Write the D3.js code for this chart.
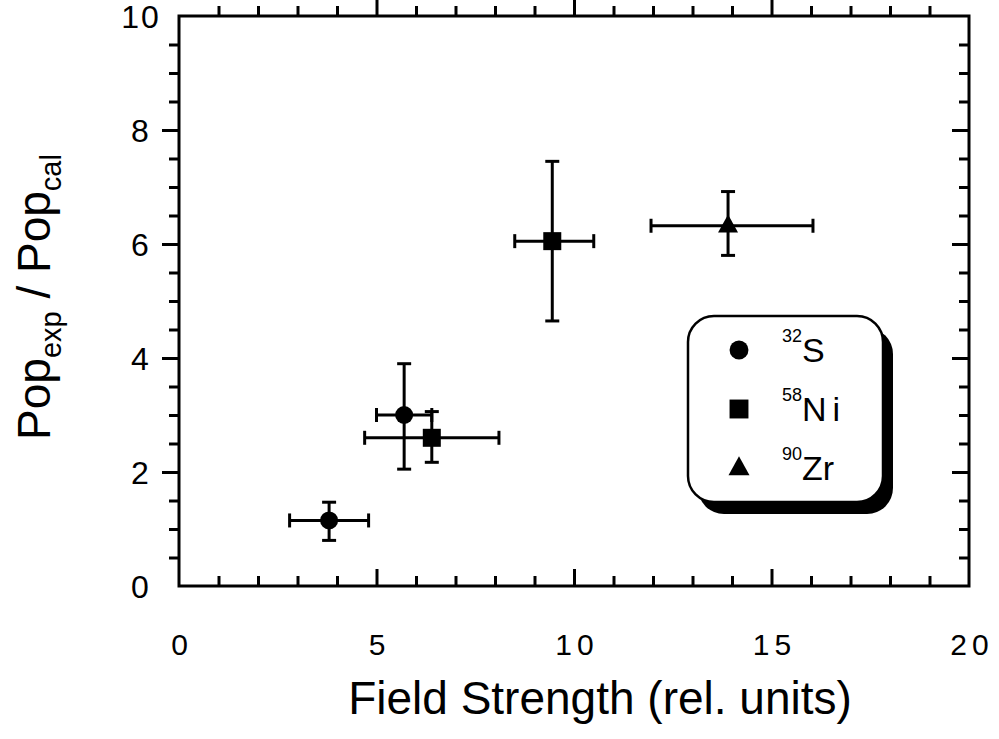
<!DOCTYPE html>
<html>
<head>
<meta charset="utf-8">
<script src="https://cdn.jsdelivr.net/npm/d3@7"></script>
<style>
  html, body { margin: 0; padding: 0; background: #fff; }
  svg { display: block; font-family: "Liberation Sans", Arial, Helvetica, sans-serif; }
</style>
</head>
<body>
<svg id="chart" width="999" height="739"></svg>
<script>
// Measured ratio Pop_exp / Pop_cal against relative field strength, per projectile
const seriesNames = ["32S", "58Ni", "90Zr"];
const seriesMass = ["32", "58", "90"];
const seriesElem = ["S", "Ni", "Zr"];
const seriesShape = ["circle", "square", "triangle"];

const sX    = [3.8, 5.7];
const sY    = [1.15, 3.0];
const sXlo  = [2.8, 5.0];
const sXhi  = [4.8, 6.4];
const sYlo  = [0.8, 2.05];
const sYhi  = [1.47, 3.9];

const niX   = [6.4, 9.45];
const niY   = [2.6, 6.05];
const niXlo = [4.7, 8.5];
const niXhi = [8.1, 10.5];
const niYlo = [2.17, 4.65];
const niYhi = [3.06, 7.45];

const zrX   = [13.9];
const zrY   = [6.32];
const zrXlo = [11.95];
const zrXhi = [16.05];
const zrYlo = [5.8];
const zrYhi = [6.92];

const xTickLabels = ["0", "5", "10", "15", "20"];
const yTickLabels = ["0", "2", "4", "6", "8", "10"];

const series = [
  { x: sX,  y: sY,  xlo: sXlo,  xhi: sXhi,  ylo: sYlo,  yhi: sYhi },
  { x: niX, y: niY, xlo: niXlo, xhi: niXhi, ylo: niYlo, yhi: niYhi },
  { x: zrX, y: zrY, xlo: zrXlo, xhi: zrXhi, ylo: zrYlo, yhi: zrYhi }
];

const svg = d3.select("#chart");
const L = 179, R = 969, T = 16, B = 586;

const x = d3.scaleLinear().domain([0, 20]).range([L, R]);
const y = d3.scaleLinear().domain([0, 10]).range([B, T]);

const ink = "#000";
const frameW = 3;

// frame ticks, all pointing inward
function addTicks(axisFn, scale, values, len, transform) {
  const g = svg.append("g")
    .attr("transform", transform)
    .call(axisFn(scale).tickValues(values).tickSize(-len).tickSizeOuter(0).tickFormat(""));
  g.select(".domain").remove();
  g.selectAll(".tick line").attr("stroke", ink).attr("stroke-width", frameW);
}
const xMinor = d3.range(0, 21, 1).filter(v => v % 5 !== 0);
const xMajor = [5, 10, 15];
const yMinor = d3.range(0, 10.01, 0.5).filter(v => v % 2 !== 0);
const yMajor = [2, 4, 6, 8];

addTicks(d3.axisBottom, x, xMinor, 10, `translate(0,${B})`);
addTicks(d3.axisBottom, x, xMajor, 17, `translate(0,${B})`);
addTicks(d3.axisTop, x, xMinor, -10, `translate(0,${T})`);
addTicks(d3.axisTop, x, xMajor, -17, `translate(0,${T})`);
addTicks(d3.axisLeft, y, yMinor, -10, `translate(${L},0)`);
addTicks(d3.axisLeft, y, yMajor, -17, `translate(${L},0)`);
addTicks(d3.axisRight, y, yMinor, 10, `translate(${R},0)`);
addTicks(d3.axisRight, y, yMajor, 17, `translate(${R},0)`);

svg.append("rect")
  .attr("x", L).attr("y", T).attr("width", R - L).attr("height", B - T)
  .attr("fill", "none").attr("stroke", ink).attr("stroke-width", frameW);

// tick labels
svg.append("g").selectAll("text").data(xTickLabels).join("text")
  .attr("x", d => x(+d) + 3)
  .attr("y", 655)
  .attr("text-anchor", "middle")
  .attr("font-size", 30)
  .attr("letter-spacing", 5)
  .attr("fill", ink)
  .text(d => d);

svg.append("g").selectAll("text").data(yTickLabels).join("text")
  .attr("x", 141)
  .attr("y", d => y(+d) + 12)
  .attr("text-anchor", "middle")
  .attr("font-size", 32)
  .attr("letter-spacing", 2)
  .attr("fill", ink)
  .text(d => d);

// axis titles
svg.append("text")
  .attr("x", 600).attr("y", 714)
  .attr("text-anchor", "middle")
  .attr("font-size", 46)
  .attr("fill", ink)
  .text("Field Strength (rel. units)");

const yTitle = svg.append("text")
  .attr("transform", "translate(50,297) rotate(-90)")
  .attr("text-anchor", "middle")
  .attr("font-size", 46)
  .attr("fill", ink);
yTitle.append("tspan").text("Pop");
yTitle.append("tspan").attr("font-size", 29).attr("dy", 11).text("exp");
yTitle.append("tspan").attr("dy", -11).text(" / Pop");
yTitle.append("tspan").attr("font-size", 29).attr("dy", 11).text("cal");

// marker shapes
function drawMarker(g, shape, cx, cy, scale) {
  const k = scale || 1;
  if (shape === "circle") {
    g.append("circle").attr("cx", cx).attr("cy", cy).attr("r", 9 * k).attr("fill", ink);
  } else if (shape === "square") {
    const s = 18 * k;
    g.append("rect").attr("x", cx - s / 2).attr("y", cy - s / 2).attr("width", s).attr("height", s).attr("fill", ink);
  } else {
    const w = 20 * k, h = 18 * k;
    g.append("path")
      .attr("d", `M${cx},${cy - h * 0.62} L${cx + w / 2},${cy + h * 0.38} L${cx - w / 2},${cy + h * 0.38} Z`)
      .attr("fill", ink);
  }
}

// error bars and points
const cap = 7;
series.forEach((s, si) => {
  const g = svg.append("g");
  s.x.forEach((xv, i) => {
    const px = x(xv), py = y(s.y[i]);
    const x0 = x(s.xlo[i]), x1 = x(s.xhi[i]);
    const y0 = y(s.ylo[i]), y1 = y(s.yhi[i]);
    const eb = g.append("g").attr("stroke", ink).attr("stroke-width", 3).attr("fill", "none");
    eb.append("line").attr("x1", x0).attr("x2", x1).attr("y1", py).attr("y2", py);
    eb.append("line").attr("x1", x0).attr("x2", x0).attr("y1", py - cap).attr("y2", py + cap);
    eb.append("line").attr("x1", x1).attr("x2", x1).attr("y1", py - cap).attr("y2", py + cap);
    eb.append("line").attr("x1", px).attr("x2", px).attr("y1", y0).attr("y2", y1);
    eb.append("line").attr("x1", px - cap).attr("x2", px + cap).attr("y1", y0).attr("y2", y0);
    eb.append("line").attr("x1", px - cap).attr("x2", px + cap).attr("y1", y1).attr("y2", y1);
    drawMarker(g, seriesShape[si], px, py, 1);
  });
});

// legend box with drop shadow
const lg = svg.append("g");
const bx = 688, by = 316, bw = 195, bh = 186, br = 26;
lg.append("rect").attr("x", bx + 10).attr("y", by + 12).attr("width", bw).attr("height", bh)
  .attr("rx", br).attr("fill", ink);
lg.append("rect").attr("x", bx).attr("y", by).attr("width", bw).attr("height", bh)
  .attr("rx", br).attr("fill", "#fff").attr("stroke", ink).attr("stroke-width", 2.5);

seriesNames.forEach((name, i) => {
  const cy = 350 + i * 59;
  drawMarker(lg, seriesShape[i], 739, cy, 1.05);
  const t = lg.append("text")
    .attr("x", 782).attr("y", cy + 12)
    .attr("font-size", 34)
    .attr("fill", ink);
  t.append("tspan").attr("font-size", 18).attr("dy", -20).text(seriesMass[i]);
  t.append("tspan").attr("dy", 20).attr("letter-spacing", i === 1 ? 6 : 0).text(seriesElem[i]);
});
</script>
</body>
</html>
